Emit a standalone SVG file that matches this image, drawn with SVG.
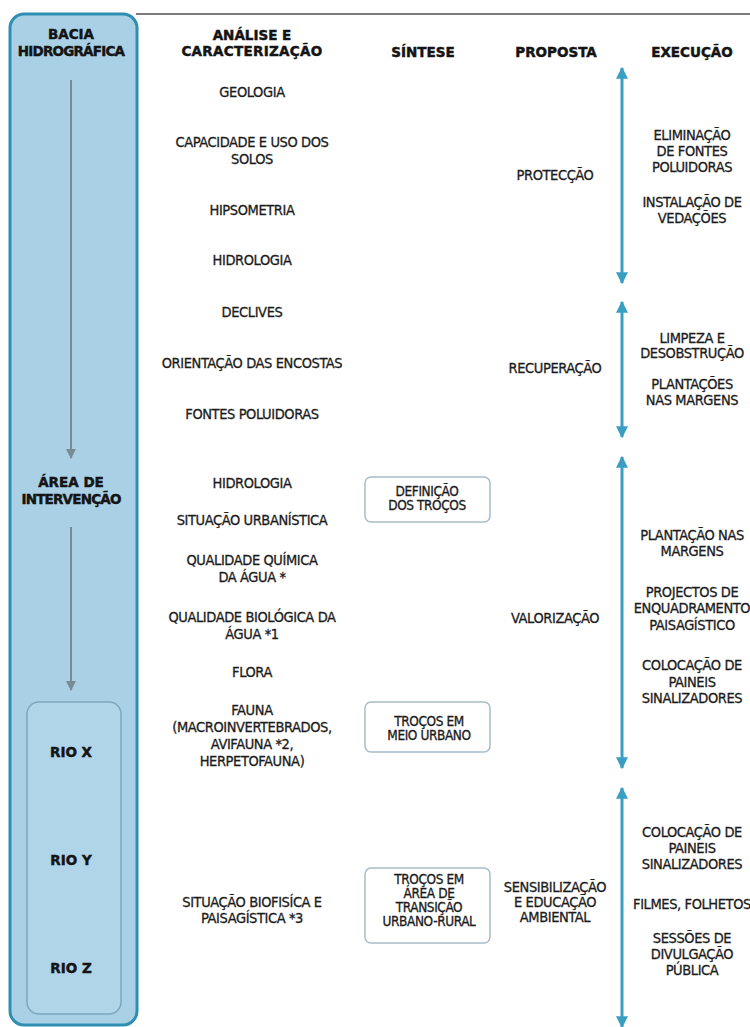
<svg xmlns="http://www.w3.org/2000/svg" width="750" height="1027" viewBox="0 0 750 1027">
<defs>
<style>
.hd{font-family:"DejaVu Sans",sans-serif;font-weight:bold;font-size:13.5px;fill:#141414;stroke:#141414;stroke-width:0.45;text-anchor:middle}
.tx{font-family:"DejaVu Sans Condensed","DejaVu Sans",sans-serif;font-size:14.5px;fill:#1c1c1c;stroke:#1c1c1c;stroke-width:0.3;text-anchor:middle;letter-spacing:-0.4px}
.sm{font-size:13.5px}
.bx{fill:#ffffff;stroke:#a9bcc8;stroke-width:1.5}
.ga{stroke:#7b8b96;stroke-width:2;fill:none}
.ba{stroke:#3a9ec4;stroke-width:3;fill:none}
</style>
<marker id="gh" viewBox="0 0 10 10" refX="9" refY="5" markerWidth="5" markerHeight="6" orient="auto" markerUnits="strokeWidth">
<path d="M0,0 L10,5 L0,10 z" fill="#7b8b96"/>
</marker>
<marker id="bh" viewBox="0 0 10 10" refX="9" refY="5" markerWidth="4" markerHeight="4" orient="auto-start-reverse" markerUnits="strokeWidth">
<path d="M0,0 L10,5 L0,10 z" fill="#3a9ec4"/>
</marker>
</defs>
<rect width="750" height="1027" fill="#ffffff"/>
<line x1="136" y1="14" x2="750" y2="14" stroke="#7a7a7a" stroke-width="2"/>

<g id="bacia">
<rect x="10" y="14" width="127" height="1011" rx="14" fill="#a9d0e4" stroke="#2f8fb3" stroke-width="3"/>
<text class="hd" x="71" y="39">BACIA</text>
<text class="hd" x="71" y="56" letter-spacing="-0.8">HIDROGRÁFICA</text>
</g>
<g id="area">
<text class="hd" x="71" y="487">ÁREA DE</text>
<text class="hd" x="71" y="504" letter-spacing="-0.8">INTERVENÇÃO</text>
</g>
<g id="rios">
<rect x="27" y="702" width="94" height="312" rx="12" fill="#b0d5e8" stroke="#7da6bf" stroke-width="1.5"/>
<text class="hd" x="71" y="757">RIO X</text>
<text class="hd" x="71" y="865">RIO Y</text>
<text class="hd" x="71" y="973">RIO Z</text>
</g>

<g id="headers">
<text class="hd" x="252" y="40">ANÁLISE E</text>
<text class="hd" x="252" y="56" letter-spacing="0.3">CARACTERIZAÇÃO</text>
<text class="hd" x="423" y="57">SÍNTESE</text>
<text class="hd" x="556" y="57">PROPOSTA</text>
<text class="hd" x="692" y="57">EXECUÇÃO</text>
</g>

<g id="analise">
<text class="tx" x="252" y="97">GEOLOGIA</text>
<text class="tx" x="252" y="147">CAPACIDADE E USO DOS</text>
<text class="tx" x="252" y="164">SOLOS</text>
<text class="tx" x="252" y="215">HIPSOMETRIA</text>
<text class="tx" x="252" y="265">HIDROLOGIA</text>
<text class="tx" x="252" y="317">DECLIVES</text>
<text class="tx" x="252" y="368">ORIENTAÇÃO DAS ENCOSTAS</text>
<text class="tx" x="252" y="419">FONTES POLUIDORAS</text>
<text class="tx" x="252" y="488">HIDROLOGIA</text>
<text class="tx" x="252" y="525">SITUAÇÃO URBANÍSTICA</text>
<text class="tx" x="252" y="565">QUALIDADE QUÍMICA</text>
<text class="tx" x="252" y="582">DA ÁGUA *</text>
<text class="tx" x="252" y="622">QUALIDADE BIOLÓGICA DA</text>
<text class="tx" x="252" y="639">ÁGUA *1</text>
<text class="tx" x="252" y="677">FLORA</text>
<text class="tx" x="252" y="715">FAUNA</text>
<text class="tx" x="252" y="732">(MACROINVERTEBRADOS,</text>
<text class="tx" x="252" y="749">AVIFAUNA *2,</text>
<text class="tx" x="252" y="766">HERPETOFAUNA)</text>
<text class="tx" x="252" y="907">SITUAÇÃO BIOFISÍCA E</text>
<text class="tx" x="252" y="923">PAISAGÍSTICA *3</text>
</g>

<g id="sintese1">
<rect class="bx" x="365" y="477" width="125" height="45" rx="6"/>
<text class="tx sm" x="427" y="496">DEFINIÇÃO</text>
<text class="tx sm" x="427" y="510">DOS TROÇOS</text>
</g>
<g id="sintese2">
<rect class="bx" x="365" y="702" width="125" height="50" rx="6"/>
<text class="tx sm" x="429" y="726">TROÇOS EM</text>
<text class="tx sm" x="429" y="740">MEIO URBANO</text>
</g>
<g id="sintese3">
<rect class="bx" x="365" y="868" width="125" height="75" rx="6"/>
<text class="tx sm" x="429" y="884">TROÇOS EM</text>
<text class="tx sm" x="429" y="898">ÁREA DE</text>
<text class="tx sm" x="429" y="912">TRANSIÇÃO</text>
<text class="tx sm" x="429" y="926">URBANO-RURAL</text>
</g>

<g id="proposta">
<text class="tx" x="555" y="180">PROTECÇÃO</text>
<text class="tx" x="555" y="373">RECUPERAÇÃO</text>
<text class="tx" x="555" y="623">VALORIZAÇÃO</text>
<text class="tx" x="555" y="892">SENSIBILIZAÇÃO</text>
<text class="tx" x="555" y="907">E EDUCAÇÃO</text>
<text class="tx" x="555" y="922">AMBIENTAL</text>
</g>

<g id="execucao">
<text class="tx" x="692" y="140">ELIMINAÇÃO</text>
<text class="tx" x="692" y="156">DE FONTES</text>
<text class="tx" x="692" y="172">POLUIDORAS</text>
<text class="tx" x="692" y="207">INSTALAÇÃO DE</text>
<text class="tx" x="692" y="223">VEDAÇÕES</text>
<text class="tx" x="692" y="343">LIMPEZA E</text>
<text class="tx" x="692" y="358">DESOBSTRUÇÃO</text>
<text class="tx" x="692" y="389">PLANTAÇÕES</text>
<text class="tx" x="692" y="405">NAS MARGENS</text>
<text class="tx" x="692" y="540">PLANTAÇÃO NAS</text>
<text class="tx" x="692" y="556">MARGENS</text>
<text class="tx" x="692" y="597">PROJECTOS DE</text>
<text class="tx" x="692" y="613">ENQUADRAMENTO</text>
<text class="tx" x="692" y="630">PAISAGÍSTICO</text>
<text class="tx" x="692" y="670">COLOCAÇÃO DE</text>
<text class="tx" x="692" y="687">PAINEIS</text>
<text class="tx" x="692" y="703">SINALIZADORES</text>
<text class="tx" x="692" y="837">COLOCAÇÃO DE</text>
<text class="tx" x="692" y="853">PAINEIS</text>
<text class="tx" x="692" y="869">SINALIZADORES</text>
<text class="tx" x="692" y="909">FILMES, FOLHETOS</text>
<text class="tx" x="692" y="943">SESSÕES DE</text>
<text class="tx" x="692" y="959">DIVULGAÇÃO</text>
<text class="tx" x="692" y="975">PÚBLICA</text>
</g>

<g id="connectors">
<line class="ga" x1="71" y1="80" x2="71" y2="458" marker-end="url(#gh)"/>
<line class="ga" x1="71" y1="527" x2="71" y2="690" marker-end="url(#gh)"/>
<line class="ba" x1="622" y1="68" x2="622" y2="283" marker-start="url(#bh)" marker-end="url(#bh)"/>
<line class="ba" x1="622" y1="302" x2="622" y2="437" marker-start="url(#bh)" marker-end="url(#bh)"/>
<line class="ba" x1="622" y1="457" x2="622" y2="768" marker-start="url(#bh)" marker-end="url(#bh)"/>
<line class="ba" x1="622" y1="788" x2="622" y2="1027" marker-start="url(#bh)" marker-end="url(#bh)"/>
</g>
</svg>
